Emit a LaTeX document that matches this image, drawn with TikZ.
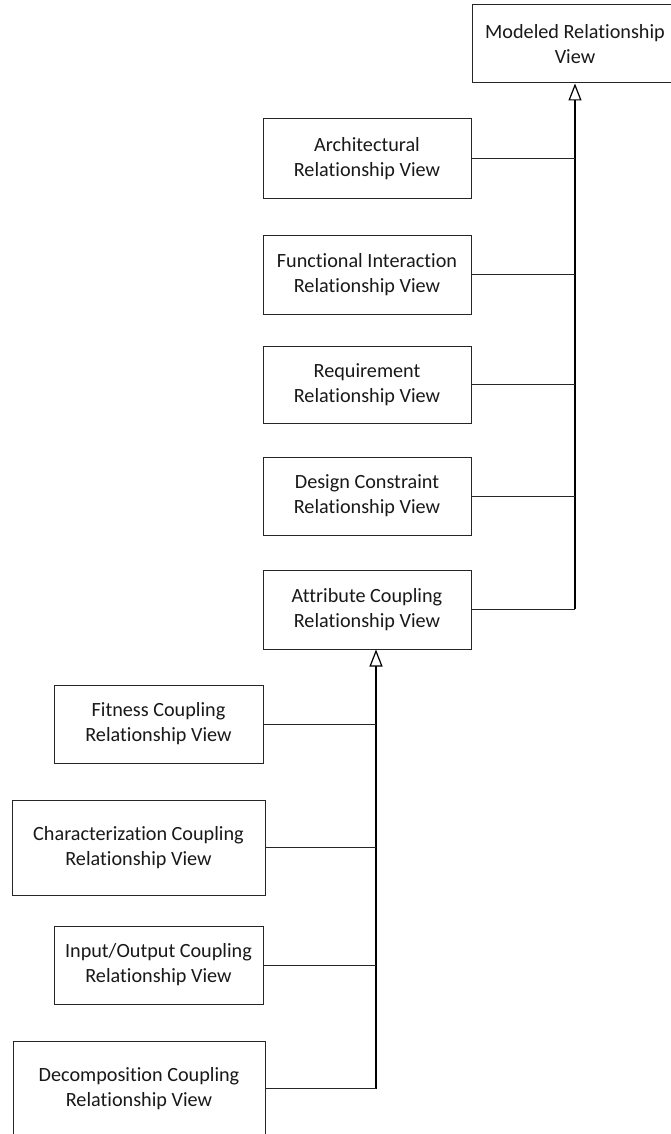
\documentclass[tikz,border=0pt]{standalone}
\usepackage{fontspec}
\setmainfont{Carlito}[Ligatures=NoCommon]
\usetikzlibrary{arrows.meta}
\begin{document}
\begin{tikzpicture}[x=1pt,y=-1pt,
  viewbox/.style={draw=black!85, line width=1pt, fill=white, align=center,
    inner sep=0pt, text=black!90, font=\fontsize{20.2}{25}\selectfont},
  branch/.style={draw=black!85, line width=1pt},
  trunk/.style={draw=black, line width=1.6pt},
  generalize/.style={-{Triangle[open, length=17pt, width=13pt, line width=1.2pt]}}]
\useasboundingbox (0,0) rectangle (670,1134);

% parent views
\node[viewbox, minimum width=206pt, minimum height=78pt] (model) at (575,44)
  {Modeled Relationship\\View};
\node[viewbox, minimum width=208pt, minimum height=79pt] (arch) at (367,158.5)
  {Architectural\\Relationship View};
\node[viewbox, minimum width=208pt, minimum height=79pt] (func) at (367,274.5)
  {Functional Interaction\\Relationship View};
\node[viewbox, minimum width=208pt, minimum height=77pt] (req) at (367,384.5)
  {Requirement\\Relationship View};
\node[viewbox, minimum width=208pt, minimum height=78pt] (design) at (367,496)
  {Design Constraint\\Relationship View};
\node[viewbox, minimum width=208pt, minimum height=79pt] (attr) at (367,609.5)
  {Attribute Coupling\\Relationship View};

% coupling views
\node[viewbox, minimum width=209pt, minimum height=78pt] (fit) at (158.5,724)
  {Fitness Coupling\\Relationship View};
\node[viewbox, minimum width=253pt, minimum height=95pt] (char) at (138.5,847.5)
  {Characterization Coupling\\Relationship View};
\node[viewbox, minimum width=209pt, minimum height=78pt] (io) at (158.5,965)
  {Input/Output Coupling\\Relationship View};
\node[viewbox, minimum width=252pt, minimum height=95pt] (decomp) at (139,1088.5)
  {Decomposition Coupling\\Relationship View};

% generalization trunks
\coordinate (t1) at (575,609);
\coordinate (t2) at (376,1088.5);
\draw[trunk, generalize] (t1) -- (model.south);
\draw[trunk, generalize] (t2) -- (t2 |- attr.south);

\foreach \n in {arch, func, req, design, attr}
  \draw[branch] (\n.east) -- (\n.east -| t1);
\foreach \n in {fit, char, io, decomp}
  \draw[branch] (\n.east) -- (\n.east -| t2);
\end{tikzpicture}
\end{document}
